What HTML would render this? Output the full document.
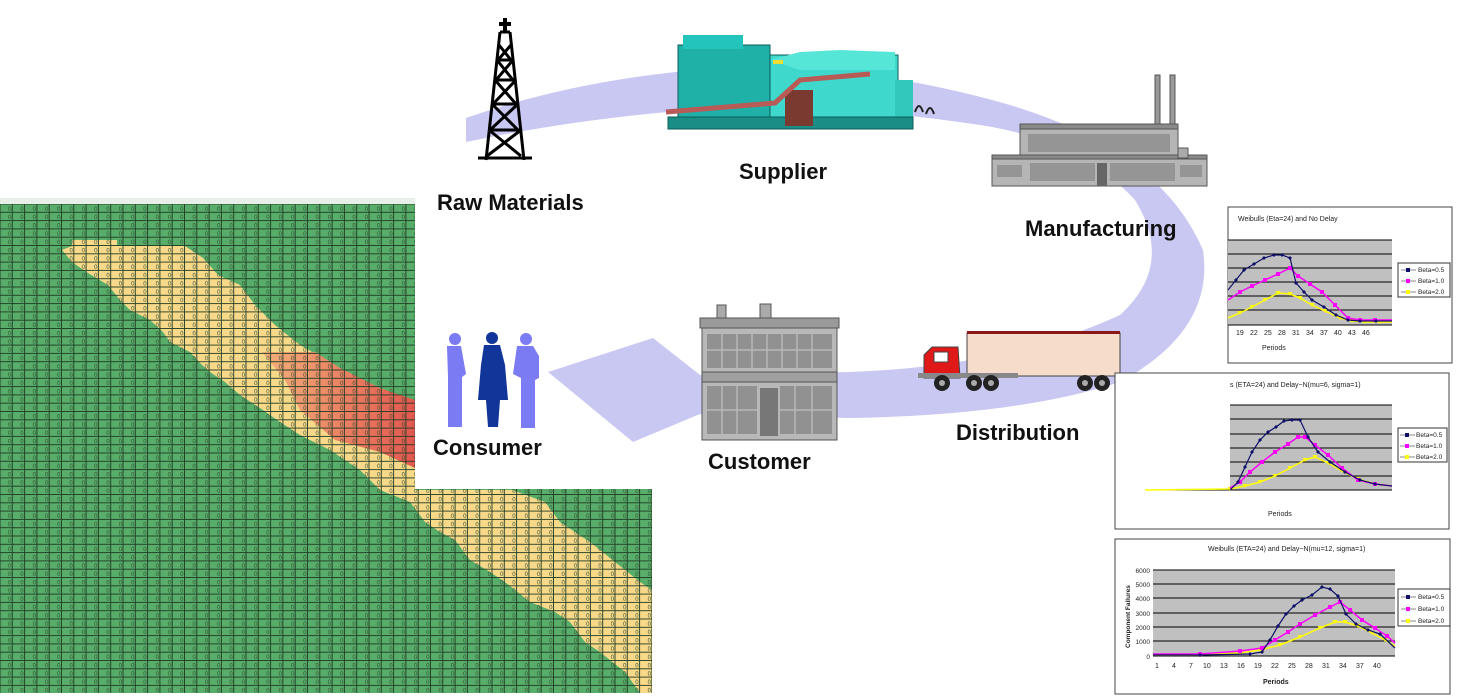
<!DOCTYPE html>
<html><head><meta charset="utf-8"><style>
html,body{margin:0;padding:0;background:#fff;width:1458px;height:699px;overflow:hidden}
svg{display:block}
.lbl{font-family:"Liberation Sans",sans-serif;font-weight:bold;font-size:22px;fill:#111}
.t{font-family:"Liberation Sans",sans-serif;font-size:7px;fill:#222}
</style></head><body>
<svg width="1458" height="699" viewBox="0 0 1458 699" xmlns="http://www.w3.org/2000/svg">
<defs>
<pattern id="cells" x="0" y="204" width="12.3" height="8.3" patternUnits="userSpaceOnUse">
<rect x="0" y="0" width="12.3" height="8.3" fill="none" stroke="#1f3a22" stroke-width="0.9"/>
<text x="8" y="7" font-family="Liberation Sans" font-size="6" fill="#2d4a2d">0</text>
</pattern>
<linearGradient id="rg" x1="0" y1="0" x2="1" y2="0">
<stop offset="0" stop-color="#f3b07a"/><stop offset="1" stop-color="#e2574f"/>
</linearGradient>
<marker id="mb" markerWidth="4" markerHeight="4" refX="2" refY="2" markerUnits="userSpaceOnUse"><path d="M2 0L4 2L2 4L0 2Z" fill="#10106a"/></marker>
<marker id="mm" markerWidth="4" markerHeight="4" refX="2" refY="2" markerUnits="userSpaceOnUse"><rect width="4" height="4" fill="#ff00ff"/></marker>
<marker id="my" markerWidth="5" markerHeight="4" refX="2.5" refY="2" markerUnits="userSpaceOnUse"><path d="M0 0L5 0L2.5 4Z" fill="#ffff00"/></marker>
</defs>

<!-- spreadsheet grid -->
<rect x="0" y="198" width="652" height="495" fill="#58ad6a"/>
<polygon fill="#f8d98a" points="72,240 117,240 117,246 185,246 203,258 218,275 240,285 255,305 275,325 300,345 335,365 360,385 385,405 415,420 415,490 512,490 545,502 560,522 590,542 615,562 640,582 652,590 652,693 640,693 625,672 600,652 585,642 570,622 555,612 530,602 505,582 490,572 470,560 455,540 440,532 425,522 410,502 380,490 360,470 330,450 300,435 280,422 260,408 240,395 225,382 210,372 200,363 190,352 170,342 163,332 150,320 130,310 120,300 108,285 88,273 72,262 62,250 72,246"/>
<polygon fill="url(#rg)" points="262,352 315,352 340,368 380,388 415,400 415,468 380,452 335,440 300,410 285,380"/>
<rect x="0" y="198" width="652" height="495" fill="url(#cells)"/>
<rect x="0" y="198" width="652" height="6" fill="#e8efe8"/>
<!-- white diagram area over grid -->
<rect x="415" y="0" width="700" height="489" fill="#fff"/>

<!-- cycle arrow -->
<path fill="#c8c8f2" d="M466 118 Q580 78 720 68 Q860 62 1010 105 Q1160 150 1203 250 Q1215 330 1120 382 Q1020 415 850 418 L700 414 L633 442 L548 372 L653 338 L700 375 L850 372 Q1010 366 1120 315 Q1175 265 1135 200 Q1080 140 980 125 Q850 105 720 108 Q590 116 466 142 Z"/>

<!-- derrick -->
<g stroke="#000" stroke-width="3" fill="none">
<path d="M486 160 L500 32 M524 160 L510 32 M500 32 L510 32"/>
<path d="M499 45 L511 60 M511 45 L498 60 M497 60 L513 80 M513 60 L496 80 M495 80 L516 104 M516 80 L493 104 M492 104 L518 130 M518 104 L490 130 M489 130 L521 156 M521 130 L487 156"/>
<path d="M496 60 H514 M494 80 H516 M492 104 H518 M490 130 H521 M478 158 H532"/>
<path d="M505 18 V32 M499 24 H511" stroke-width="4"/>
</g>

<!-- supplier machine -->
<g>
<rect x="678" y="45" width="92" height="78" fill="#1fb0a8" stroke="#0b5e58"/>
<rect x="683" y="35" width="60" height="14" fill="#22c4bc"/>
<rect x="770" y="55" width="128" height="68" fill="#3fd8cc" stroke="#0b5e58"/>
<polygon points="770,60 800,52 840,50 895,52 895,70 800,70" fill="#56e6d8"/>
<rect x="895" y="80" width="18" height="40" fill="#33c8bc"/>
<rect x="668" y="117" width="245" height="12" fill="#1a8e86" stroke="#0b5e58"/>
<rect x="785" y="90" width="28" height="36" fill="#7a3a30"/>
<polyline points="666,112 775,103 800,80 870,74" fill="none" stroke="#b85a55" stroke-width="5"/>
<path d="M915 112 q4 -12 8 0 M926 114 q4 -12 8 0" stroke="#222" stroke-width="2" fill="none"/>
<rect x="773" y="60" width="10" height="4" fill="#eedd33"/>
</g>

<!-- factory -->
<g stroke="#555" stroke-width="1">
<rect x="1155" y="75" width="5" height="60" fill="#999"/>
<rect x="1170" y="75" width="5" height="60" fill="#999"/>
<rect x="1020" y="128" width="158" height="30" fill="#b5b5b5"/>
<rect x="1020" y="124" width="158" height="5" fill="#8a8a8a"/>
<rect x="992" y="158" width="215" height="28" fill="#b5b5b5"/>
<rect x="992" y="155" width="215" height="4" fill="#8a8a8a"/>
<rect x="1178" y="148" width="10" height="10" fill="#aaa"/>
</g>
<g fill="#7a7a7a">
<rect x="1028" y="134" width="142" height="18" opacity="0.55"/>
<rect x="1030" y="163" width="65" height="18" opacity="0.55"/>
<rect x="1110" y="163" width="65" height="18" opacity="0.55"/>
<rect x="997" y="165" width="25" height="12" opacity="0.55"/>
<rect x="1180" y="165" width="22" height="12" opacity="0.55"/>
<rect x="1097" y="163" width="10" height="23" fill="#666"/>
</g>

<!-- customer building -->
<g stroke="#555" stroke-width="1">
<rect x="717" y="305" width="9" height="14" fill="#aaa"/>
<rect x="760" y="304" width="11" height="15" fill="#aaa"/>
<rect x="700" y="318" width="139" height="10" fill="#9a9a9a"/>
<rect x="702" y="328" width="135" height="112" fill="#b8b8b8"/>
<rect x="702" y="372" width="135" height="10" fill="#a0a0a0"/>
</g>
<g fill="#808080" opacity="0.7">
<rect x="707" y="334" width="125" height="34"/>
<rect x="707" y="386" width="50" height="48"/>
<rect x="780" y="386" width="52" height="48"/>
</g>
<g stroke="#b8b8b8" stroke-width="1.5">
<path d="M722 334V368M737 334V368M752 334V368M767 334V368M782 334V368M797 334V368M812 334V368M707 350H832M722 386V434M737 386V434M795 386V434M812 386V434M707 410H757M780 410H832"/>
</g>
<rect x="760" y="388" width="18" height="48" fill="#777"/>

<!-- truck -->
<g>
<rect x="967" y="333" width="153" height="43" fill="#f6dccb" stroke="#444"/>
<rect x="967" y="331" width="153" height="3" fill="#8a1818"/>
<path d="M924 378 L924 355 L932 347 L958 347 L960 378 Z" fill="#e01818" stroke="#444"/>
<rect x="934" y="352" width="14" height="10" fill="#fff" stroke="#444"/>
<rect x="918" y="373" width="100" height="5" fill="#888"/>
<g fill="#222"><circle cx="942" cy="383" r="8"/><circle cx="974" cy="383" r="8"/><circle cx="991" cy="383" r="8"/><circle cx="1085" cy="383" r="8"/><circle cx="1102" cy="383" r="8"/></g>
<g fill="#aaa"><circle cx="942" cy="383" r="3"/><circle cx="974" cy="383" r="3"/><circle cx="991" cy="383" r="3"/><circle cx="1085" cy="383" r="3"/><circle cx="1102" cy="383" r="3"/></g>
</g>

<!-- people -->
<g fill="#7b7bf4">
<circle cx="455" cy="339" r="6"/><path d="M447 346 h14 l5 28 l-4 3 v50 h-14 v-50 z"/>
<circle cx="526" cy="339" r="6"/><path d="M517 346 h16 l6 10 v22 l-4 2 v48 h-14 v-50 l-8 -4 z"/>
</g>
<g fill="#12359a">
<circle cx="492" cy="338" r="6"/><path d="M484 345 h16 l5 20 l3 35 h-8 l-2 27 h-10 l-2 -27 h-8 l3 -35 z"/>
</g>

<!-- labels -->
<text class="lbl" x="437" y="210">Raw Materials</text>
<text class="lbl" x="739" y="179">Supplier</text>
<text class="lbl" x="1025" y="236">Manufacturing</text>
<text class="lbl" x="956" y="440">Distribution</text>
<text class="lbl" x="708" y="469">Customer</text>
<text class="lbl" x="433" y="455">Consumer</text>

<!-- chart 1 -->
<rect x="1228" y="207" width="224" height="156" fill="#fff" stroke="#444"/>
<text class="t" x="1238" y="221">Weibulls (Eta=24) and No Delay</text>
<rect x="1228" y="240" width="164" height="85" fill="#c0c0c0"/>
<g stroke="#000" stroke-width="1"><path d="M1228 240H1392M1228 254H1392M1228 268H1392M1228 282H1392M1228 296H1392M1228 310H1392M1228 325H1392"/></g>
<polyline points="1228,318 1240,313 1252,307 1265,300 1278,293 1290,294 1300,298 1312,305 1325,311 1340,318 1352,321 1365,322 1380,322 1392,322" fill="none" stroke="#ffff00" stroke-width="1.5" marker-mid="url(#my)"/>
<polyline points="1228,300 1240,292 1252,286 1265,280 1278,274 1290,268 1298,276 1310,284 1322,292 1335,305 1348,318 1360,320 1375,320 1392,320" fill="none" stroke="#ff00ff" stroke-width="1.5" marker-mid="url(#mm)"/>
<polyline points="1228,290 1236,280 1244,270 1254,264 1264,258 1274,255 1282,255 1290,258 1296,283 1304,292 1312,300 1324,307 1336,315 1348,320 1360,321 1376,321 1392,321" fill="none" stroke="#10106a" stroke-width="1.2" marker-mid="url(#mb)"/>
<text class="t" x="1262" y="350">Periods</text>
<g class="t" font-size="6"><text x="1236" y="335">19</text><text x="1250" y="335">22</text><text x="1264" y="335">25</text><text x="1278" y="335">28</text><text x="1292" y="335">31</text><text x="1306" y="335">34</text><text x="1320" y="335">37</text><text x="1334" y="335">40</text><text x="1348" y="335">43</text><text x="1362" y="335">46</text></g>
<rect x="1398" y="263" width="52" height="34" fill="#fff" stroke="#333"/>
<g font-family="Liberation Sans" font-size="6.5" fill="#222"><text x="1418" y="272">Beta=0.5</text><text x="1418" y="283">Beta=1.0</text><text x="1418" y="294">Beta=2.0</text></g>
<path d="M1401 270h15M1401 281h15M1401 292h15" stroke="#888"/>
<rect x="1406" y="268" width="4" height="4" fill="#10106a"/><rect x="1406" y="279" width="4" height="4" fill="#ff00ff"/><rect x="1406" y="290" width="4" height="4" fill="#ffff00"/>

<!-- chart 2 -->
<rect x="1115" y="373" width="334" height="156" fill="#fff" stroke="#444"/>
<text class="t" x="1230" y="387">s (ETA=24) and Delay~N(mu=6, sigma=1)</text>
<rect x="1230" y="405" width="162" height="85" fill="#c0c0c0"/>
<g stroke="#000"><path d="M1230 405H1392M1230 419H1392M1230 434H1392M1230 448H1392M1230 462H1392M1230 476H1392M1145 490H1392"/></g>
<polyline points="1145,490 1230,489 1245,486 1260,482 1275,476 1290,468 1305,460 1315,457 1328,463 1342,471 1358,479 1375,484 1392,486" fill="none" stroke="#ffff00" stroke-width="1.5" marker-mid="url(#my)"/>
<polyline points="1230,488 1240,482 1250,472 1262,462 1275,452 1288,444 1298,437 1305,437 1315,445 1328,455 1342,468 1358,480 1375,484 1392,486" fill="none" stroke="#ff00ff" stroke-width="1.5" marker-mid="url(#mm)"/>
<polyline points="1230,490 1238,482 1245,467 1252,452 1260,440 1268,432 1276,427 1284,421 1292,420 1300,420 1308,437 1318,452 1330,462 1345,472 1360,480 1375,484 1392,486" fill="none" stroke="#10106a" stroke-width="1.2" marker-mid="url(#mb)"/>
<text class="t" x="1268" y="516">Periods</text>
<rect x="1398" y="428" width="49" height="34" fill="#fff" stroke="#333"/>
<g font-family="Liberation Sans" font-size="6.5" fill="#222"><text x="1416" y="437">Beta=0.5</text><text x="1416" y="448">Beta=1.0</text><text x="1416" y="459">Beta=2.0</text></g>
<path d="M1400 435h15M1400 446h15M1400 457h15" stroke="#888"/>
<rect x="1405" y="433" width="4" height="4" fill="#10106a"/><rect x="1405" y="444" width="4" height="4" fill="#ff00ff"/><rect x="1405" y="455" width="4" height="4" fill="#ffff00"/>

<!-- chart 3 -->
<rect x="1115" y="539" width="335" height="155" fill="#fff" stroke="#444"/>
<text class="t" x="1208" y="551">Weibulls (ETA=24) and Delay~N(mu=12, sigma=1)</text>
<rect x="1153" y="570" width="242" height="86" fill="#c0c0c0"/>
<g stroke="#000"><path d="M1153 570H1395M1153 584H1395M1153 598H1395M1153 613H1395M1153 627H1395M1153 641H1395M1153 656H1395"/></g>
<g font-family="Liberation Sans" font-size="6.5" fill="#222" text-anchor="end"><text x="1150" y="573">6000</text><text x="1150" y="587">5000</text><text x="1150" y="601">4000</text><text x="1150" y="616">3000</text><text x="1150" y="630">2000</text><text x="1150" y="644">1000</text><text x="1150" y="659">0</text></g>
<text font-family="Liberation Sans" font-size="6.5" font-weight="bold" fill="#222" transform="translate(1130,648) rotate(-90)">Component Failures</text>
<polyline points="1153,655 1200,655 1240,653 1260,650 1280,645 1300,637 1320,628 1335,622 1345,622 1358,626 1372,633 1385,640 1395,646" fill="none" stroke="#ffff00" stroke-width="1.5" marker-mid="url(#my)"/>
<polyline points="1153,654 1200,654 1240,651 1262,648 1275,640 1288,632 1300,624 1315,615 1330,607 1340,602 1350,610 1362,620 1375,628 1387,636 1395,643" fill="none" stroke="#ff00ff" stroke-width="1.5" marker-mid="url(#mm)"/>
<polyline points="1153,655 1200,655 1250,654 1262,652 1270,640 1278,626 1286,614 1294,606 1302,600 1312,595 1322,587 1330,589 1338,596 1346,614 1356,624 1368,630 1380,634 1395,648" fill="none" stroke="#10106a" stroke-width="1.2" marker-mid="url(#mb)"/>
<g class="t" font-size="6"><text x="1155" y="668">1</text><text x="1172" y="668">4</text><text x="1189" y="668">7</text><text x="1203" y="668">10</text><text x="1220" y="668">13</text><text x="1237" y="668">16</text><text x="1254" y="668">19</text><text x="1271" y="668">22</text><text x="1288" y="668">25</text><text x="1305" y="668">28</text><text x="1322" y="668">31</text><text x="1339" y="668">34</text><text x="1356" y="668">37</text><text x="1373" y="668">40</text></g>
<text class="t" x="1263" y="684" font-weight="bold">Periods</text>
<rect x="1398" y="589" width="52" height="37" fill="#fff" stroke="#333"/>
<g font-family="Liberation Sans" font-size="6.5" fill="#222"><text x="1418" y="599">Beta=0.5</text><text x="1418" y="611">Beta=1.0</text><text x="1418" y="623">Beta=2.0</text></g>
<path d="M1401 597h15M1401 609h15M1401 621h15" stroke="#888"/>
<rect x="1406" y="595" width="4" height="4" fill="#10106a"/><rect x="1406" y="607" width="4" height="4" fill="#ff00ff"/><rect x="1406" y="619" width="4" height="4" fill="#ffff00"/>
</svg>
</body></html>
